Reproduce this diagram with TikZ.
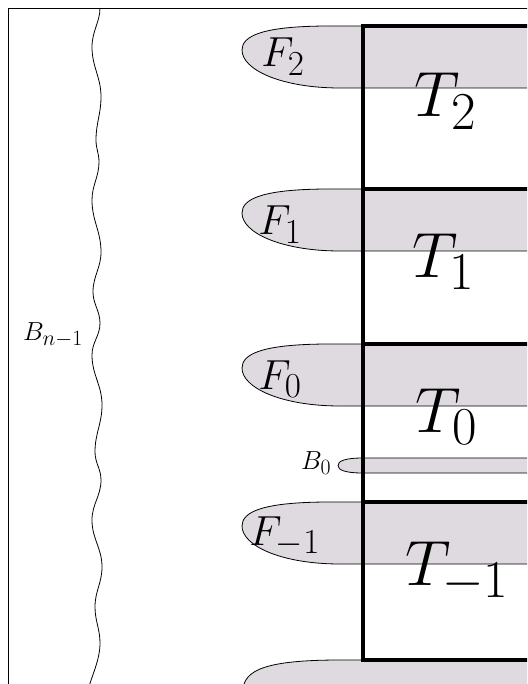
\documentclass[tikz,border=0pt]{standalone}
\definecolor{flaggray}{RGB}{222,218,224}
\tikzset{
  frameline/.style={line width=0.8pt, black},
  thinline/.style={line width=0.8pt, black},
  thickline/.style={line width=3.2pt, black, line cap=rect},
  flab/.style={inner sep=0pt, anchor=base west, font=\Huge, scale=1.69},
  tlab/.style={inner sep=0pt, anchor=base west, font=\Huge, scale=2.57},
  blab/.style={inner sep=0pt, anchor=base west, font=\Huge, scale=1.05},
}
\begin{document}
\begin{tikzpicture}[x=1pt,y=-1pt]
\useasboundingbox (0,0) rectangle (527,684);
\clip (0,0) rectangle (527,684);
% frame
\draw[frameline] (8,690) -- (8,8) -- (530,8);
% wavy boundary
\draw[thinline] (100,8)
  .. controls (100,22) and (92,31) .. (92,47)
  .. controls (92,67) and (101,77) .. (101,97)
  .. controls (101,114) and (96,123) .. (96,140)
  .. controls (96,149) and (99,153) .. (99,162)
  .. controls (99,177) and (92,185) .. (92,200)
  .. controls (92,221) and (101,231) .. (101,252)
  .. controls (101,268) and (93,276) .. (93,292)
  .. controls (93,304) and (100,311) .. (100,323)
  .. controls (100,336) and (92,342) .. (92,355)
  .. controls (92,375) and (102,385) .. (102,405)
  .. controls (102,424) and (95,433) .. (95,452)
  .. controls (95,463) and (101,469) .. (101,480)
  .. controls (101,496) and (92,504) .. (92,520)
  .. controls (92,539) and (102,548) .. (102,567)
  .. controls (102,583) and (95,591) .. (95,607)
  .. controls (95,621) and (100,629) .. (100,643)
  .. controls (100,660) and (92,675) .. (88,690);
\node[blab] (bn) at (23,340) {$B_{n-1}$};
% flags
\foreach \t/\b/\n in {26/88/2, 189/251/1, 344/406/0, 502/564/m1}{
  \fill[flaggray] (540,\t) -- (330,\t) .. controls (262,\t) and (242,\t+10) .. (242,\t+24)
     .. controls (242,\t+44) and (282,\b) .. (340,\b) -- (540,\b) -- cycle;
  \draw[thinline] (363,\t) -- (330,\t) .. controls (262,\t) and (242,\t+10) .. (242,\t+24)
     .. controls (242,\t+44) and (282,\b) .. (340,\b) -- (540,\b);
}
% bottom partial flag
\fill[flaggray] (540,660) -- (340,660) .. controls (266,660) and (244,670) .. (243,690) -- (540,690) -- cycle;
\draw[thinline] (363,660) -- (340,660) .. controls (266,660) and (244,670) .. (243,690);
% B0 flag
\fill[flaggray] (540,458) -- (363,458) .. controls (345,458) and (338,461) .. (338,465.5)
   .. controls (338,470) and (345,473) .. (363,473) -- (540,473) -- cycle;
\draw[thinline] (540,458) -- (363,458) .. controls (345,458) and (338,461) .. (338,465.5)
   .. controls (338,470) and (345,473) .. (363,473) -- (540,473);
\node[blab] (b0) at (301,469) {$B_0$};
% box structure
\draw[thickline] (363,26) -- (363,660);
\foreach \y in {26,189,344,502,660}{
  \draw[thickline] (363,\y) -- (540,\y);
}
% labels
\node[flab] (f2) at (261,67) {$F_2$};
\node[flab] (f1) at (258,235) {$F_1$};
\node[flab] (f0) at (258,389) {$F_0$};
\node[flab] (fm1) at (249,545) {$F_{-1}$};
\node[tlab] (t2) at (414,117) {$T_2$};
\node[tlab] (t1) at (412,277) {$T_1$};
\node[tlab] (t0) at (415,432) {$T_0$};
\node[tlab] (tm1) at (405,585) {$T_{-1}$};
\end{tikzpicture}
\end{document}
